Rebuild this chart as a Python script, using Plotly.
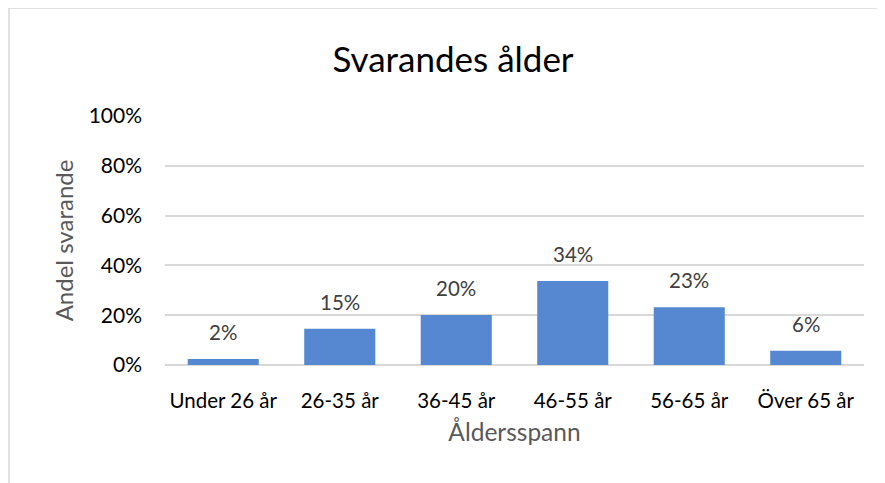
import plotly.graph_objects as go

categories = ["Under 26 år", "26-35 år", "36-45 år", "46-55 år", "56-65 år", "Över 65 år"]
values_pct = [2.4, 14.6, 20.1, 33.7, 23.2, 5.7]
tick_vals = [0, 20, 40, 60, 80, 100]
tick_text = ["0%", "20%", "40%", "60%", "80%", "100%"]
title_text = "Svarandes ålder"
x_title = "Åldersspann"
y_title = "Andel svarande"

FONT = "Lato, Carlito, Calibri, sans-serif"
OFF = 8  # page offset of the figure

fig = go.Figure()
fig.add_trace(go.Bar(
    x=categories, y=values_pct,
    marker=dict(color="#5588d0", line=dict(width=0)),
    hoverinfo="skip",
))

for c, v in zip(categories, values_pct):
    fig.add_annotation(x=c, y=v, text=f"{round(v)}%", showarrow=False,
                       yanchor="bottom", yshift=13,
                       font=dict(family=FONT, size=20.5, color="#404040"))

W, H = 885, 483
L = 165 - OFF
R = W - (864 - OFF)
T = 116 - OFF
B = H - (365 - OFF)
pw = W - L - R
ph = H - T - B

fig.add_shape(type="rect", xref="paper", yref="paper",
              x0=(9 - OFF - L) / pw, x1=(W + 20 - L) / pw,
              y0=-(H + 20 - (H - B)) / ph, y1=((H - B) - (8 - OFF)) / ph,
              line=dict(color="#d9d9d9", width=1.5), fillcolor="rgba(0,0,0,0)", layer="below")

fig.update_layout(
    width=W, height=H,
    margin=dict(l=L, r=R, t=T, b=B),
    paper_bgcolor="white", plot_bgcolor="white",
    bargap=0.39,
    showlegend=False,
    font=dict(family=FONT, size=21, color="#000000"),
    title=dict(text=title_text, x=(453 - OFF) / W, xanchor="center", y=1 - (60 - OFF) / H, yanchor="middle",
               font=dict(family=FONT, size=35, color="#000000")),
    xaxis=dict(showgrid=False, showline=False, zeroline=False, ticks="",
               tickfont=dict(family=FONT, size=20.5, color="#000000"),
               ticklabelstandoff=21,
               title=dict(text=x_title, standoff=13, font=dict(family=FONT, size=24.5, color="#595959"))),
    yaxis=dict(range=[0, 100], tickvals=tick_vals, ticktext=tick_text,
               showgrid=True, gridcolor="#d9d9d9", gridwidth=1.5,
               zeroline=True, zerolinecolor="#d9d9d9", zerolinewidth=1.5,
               showline=False, ticks="",
               tickfont=dict(family=FONT, size=21, color="#000000"),
               ticklabelstandoff=22,
               title=dict(text=y_title, standoff=8, font=dict(family=FONT, size=24, color="#595959"))),
)

fig.write_html("out.html")
